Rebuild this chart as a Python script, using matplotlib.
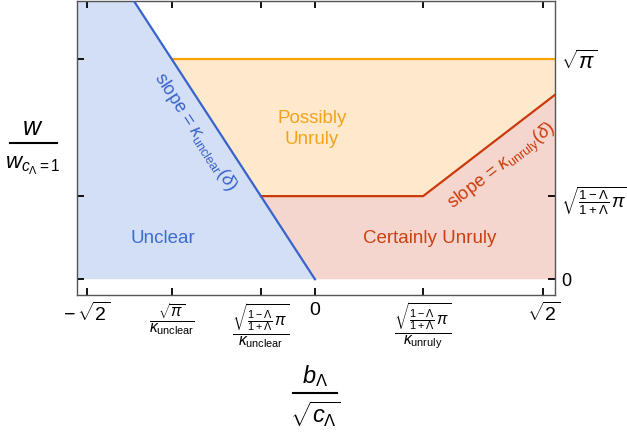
import numpy as np
import matplotlib
matplotlib.use("Agg")
import matplotlib.pyplot as plt
from matplotlib.lines import Line2D

plt.rcParams['font.family'] = ['Liberation Sans', 'DejaVu Sans']
plt.rcParams['mathtext.fontset'] = 'custom'
plt.rcParams['mathtext.rm'] = 'Liberation Sans'
plt.rcParams['mathtext.it'] = 'Liberation Sans:italic'
plt.rcParams['mathtext.bf'] = 'Liberation Sans:bold'

# ---- data ----
kappa_unclear = -2.0
kappa_unruly = 1.0
w_sqrt_pi = 1.772          # sqrt(pi)
w_low = 0.670              # sqrt((1-L)/(1+L) pi), L = 0.75
x_tick_vals = [-1.414, -0.886, -0.335, 0.0, 0.670, 1.414]
x_tick_labels = [r"$-\,\sqrt{2}$",
                 r"$\frac{\sqrt{\pi}}{\kappa_{\mathrm{unclear}}}$",
                 r"$\frac{\sqrt{\frac{1-\Lambda}{1+\Lambda}\,\pi}}{\kappa_{\mathrm{unclear}}}$",
                 r"$0$",
                 r"$\frac{\sqrt{\frac{1-\Lambda}{1+\Lambda}\,\pi}}{\kappa_{\mathrm{unruly}}}$",
                 r"$\sqrt{2}$"]
x_tick_sizes = [14, 16, 16, 14, 16, 14]
y_tick_vals = [0.0, 0.670, 1.772]
y_tick_labels = [r"$0$", r"$\sqrt{\frac{1-\Lambda}{1+\Lambda}\,\pi}$", r"$\sqrt{\pi}$"]
y_tick_sizes = [13, 13.5, 15.5]

xmin, xmax = -1.474, 1.487
ymin, ymax = -0.127, 2.243

c_blue_fill = "#d3dff5"
c_orange_fill = "#fee9cc"
c_red_fill = "#f4d6ce"
c_blue = "#3863cc"
c_orange = "#f9a200"
c_red = "#cc3a0a"

W, H = 627, 438
fig = plt.figure(figsize=(W/100, H/100), dpi=100)
ax = fig.add_axes([77/W, 1 - 295/H, (555-77)/W, (295-1)/H])
ax.set_xlim(xmin, xmax)
ax.set_ylim(ymin, ymax)

# key points from data
x_top = ymax / kappa_unclear
x_pi = w_sqrt_pi / kappa_unclear
x_low = w_low / kappa_unclear
x_kink = w_low / kappa_unruly
w_right = kappa_unruly * xmax

# fills
ax.fill([xmin, 0, x_top, xmin], [0, 0, ymax, ymax], color=c_blue_fill, lw=0, zorder=1)
ax.fill([x_pi, xmax, xmax, x_kink, x_low], [w_sqrt_pi, w_sqrt_pi, w_right, w_low, w_low],
        color=c_orange_fill, lw=0, zorder=1)
ax.fill([0, xmax, xmax, x_kink, x_low], [0, 0, w_right, w_low, w_low],
        color=c_red_fill, lw=0, zorder=1)

# lines
ax.plot([x_pi, xmax], [w_sqrt_pi, w_sqrt_pi], color=c_orange, lw=1.6, zorder=3, solid_capstyle='butt')
ax.plot([x_low, x_kink, xmax], [w_low, w_low, w_right], color=c_red, lw=1.6, zorder=3)
ax.plot([0, x_top], [0, ymax], color=c_blue, lw=1.6, zorder=4)

# region labels
ax.text(-0.94, 0.33, "Unclear", color="#3d6bd2", fontsize=13.5, ha='center', va='center', zorder=5)
ax.text(-0.02, 1.21, "Possibly\nUnruly", color="#f5a21c", fontsize=13.5, ha='center', va='center',
        linespacing=1.3, zorder=5)
ax.text(0.71, 0.325, "Certainly Unruly", color="#cc4010", fontsize=13.5, ha='center', va='center', zorder=5)

# slope labels (angle matched to on-screen slope)
def screen_angle(slope):
    p0 = ax.transData.transform((0, 0))
    p1 = ax.transData.transform((1, slope))
    return np.degrees(np.arctan2(p1[1] - p0[1], p1[0] - p0[0]))

ang_b = screen_angle(kappa_unclear)
ang_r = screen_angle(kappa_unruly)
ax.text(-0.74, 1.19, r"slope = $\kappa_{\mathrm{unclear}}(\delta)$", color=c_blue, fontsize=13,
        rotation=ang_b, rotation_mode='anchor', ha='center', va='center', zorder=5)
ax.text(1.16, 0.90, r"slope = $\kappa_{\mathrm{unruly}}(\delta)$", color=c_red, fontsize=13,
        rotation=ang_r, rotation_mode='anchor', ha='center', va='center', zorder=5)

# ticks
ax.set_xticks(x_tick_vals)
ax.set_xticklabels(x_tick_labels)
for t, s in zip(ax.get_xticklabels(), x_tick_sizes):
    t.set_fontsize(s)
ax.set_yticks(y_tick_vals)
ax.set_yticklabels(y_tick_labels)
ax.tick_params(axis='both', direction='in', length=5, width=1.3, color='black',
               top=True, bottom=True, left=True, right=True,
               labelleft=False, labelright=True, labelbottom=True, labeltop=False)
for tk, s in zip(ax.yaxis.get_major_ticks(), y_tick_sizes):
    tk.label2.set_fontsize(s)
ax.tick_params(axis='x', pad=5)
ax.tick_params(axis='y', pad=4)
for s in ax.spines.values():
    s.set_color('#555555')
    s.set_linewidth(1.0)

# axis labels drawn as stacked fractions
def px(x, y):
    return x / W, 1 - y / H

fig.text(*px(33, 128), r"$w$", fontsize=18, ha='center', va='center')
fig.add_artist(Line2D([10/W, 57/W], [1 - 143/H, 1 - 143/H], color='black', lw=1.5))
fig.text(*px(33, 166), r"$w_{c_\Lambda=1}$", fontsize=16, ha='center', va='center')

fig.text(*px(315, 376), r"$b_\Lambda$", fontsize=17, ha='center', va='center')
fig.add_artist(Line2D([293/W, 337/W], [1 - 393/H, 1 - 393/H], color='black', lw=1.5))
fig.text(*px(315, 414), r"$\sqrt{c_\Lambda}$", fontsize=17, ha='center', va='center')

fig.savefig("out.png", dpi=100)
